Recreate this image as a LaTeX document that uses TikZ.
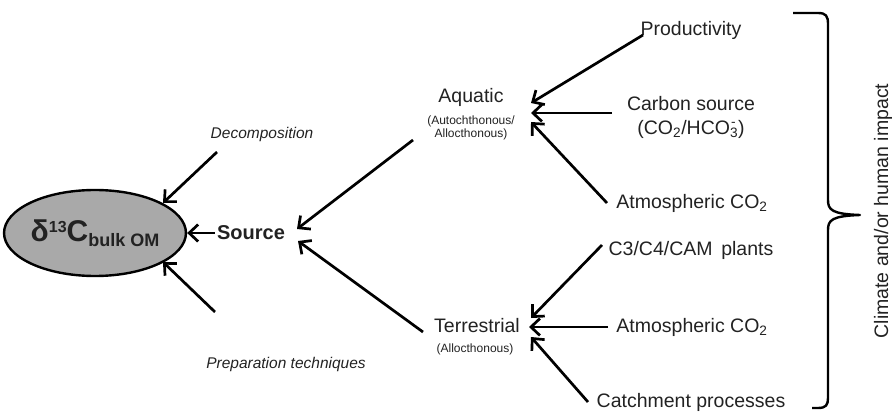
\documentclass[tikz,border=0pt]{standalone}
\usepackage{fontspec}
\setmainfont{Liberation Sans}
\usetikzlibrary{arrows.meta,shapes.geometric}
\definecolor{txt}{HTML}{222222}
\definecolor{ellfill}{HTML}{A9A9A9}
\tikzset{
  lbl/.style={text=txt,font=\fontsize{19.5}{22}\selectfont,inner sep=0pt},
  sub/.style={text=txt,font=\fontsize{12.5}{15}\selectfont,inner sep=0pt,align=center},
  ital/.style={text=txt,font=\fontsize{15.5}{18}\selectfont\itshape,inner sep=0pt},
  arr/.style={line width=2.7pt,-{Straight Barb[length=9pt,width=17pt,line width=2.7pt]}},
}
\begin{document}
\begin{tikzpicture}[x=1pt,y=-1pt]
\useasboundingbox (0,0) rectangle (892,414);
% main ellipse
\node (bulk) [ellipse,draw=black,line width=2.4pt,fill=ellfill,minimum width=166pt,minimum height=86pt,inner sep=0pt,font=\bfseries,text=txt] at (95,233)
  {\fontsize{30}{32}\selectfont δ\raisebox{9pt}{\fontsize{16}{18}\selectfont 13}C\raisebox{-5pt}{\fontsize{18}{20}\selectfont bulk OM}};
\node (src) [lbl,font=\fontsize{20}{22}\selectfont\bfseries] at (251,233) {Source};
\node (dec) [ital] at (262,134) {Decomposition};
\node (prep) [ital] at (286,364) {Preparation techniques};
% aquatic / terrestrial
\node (aq) [lbl] at (471,97) {Aquatic};
\node (aqs) [sub,font=\fontsize{12}{13.5}\selectfont] at (471,128) {(Autochthonous/\\Allocthonous)};
\node (ter) [lbl] at (477,326) {Terrestrial};
\node (ters) [sub,font=\fontsize{12}{13.5}\selectfont] at (475,349) {(Allocthonous)};
% right-hand factors
\node (prod) [lbl] at (691,30) {Productivity};
\node (csrc) [lbl,align=center] at (691,117) {Carbon source\\[2pt](CO\textsubscript{2}/HCO\rlap{\textsuperscript{\kern1pt-}}\textsubscript{3})};
\node (atm1) [lbl] at (692,203) {Atmospheric CO\textsubscript{2}};
\node (c34) [lbl] at (691,250) {C3/C4/CAM\, plants};
\node (atm2) [lbl] at (692,327) {Atmospheric CO\textsubscript{2}};
\node (catch) [lbl] at (691,402) {Catchment processes};
% connector end coordinates
\coordinate (prodS) at (643,35);
\coordinate (csrcS) at (612,113);
\coordinate (atm1S) at (607,203);
\coordinate (aqT1) at (531,103);
\coordinate (aqT2) at (531,113);
\coordinate (aqT3) at (531,122);
\coordinate (c34S) at (602,245);
\coordinate (atm2S) at (608,327);
\coordinate (catchS) at (588,402);
\coordinate (terT1) at (531,318);
\coordinate (terT2) at (529,327);
\coordinate (terT3) at (531,337);
\coordinate (aqS) at (413,140);
\coordinate (terS) at (423,332);
\coordinate (srcT1) at (297,229);
\coordinate (srcT2) at (298,241);
\coordinate (decS) at (217,152);
\coordinate (bulkT1) at (163,203);
\coordinate (prepS) at (215,312);
\coordinate (bulkT3) at (163,262);
% arrows
\draw[arr] (prodS) -- (aqT1);
\draw[arr] (csrcS) -- (aqT2);
\draw[arr] (atm1S) -- (aqT3);
\draw[arr] (c34S) -- (terT1);
\draw[arr] (atm2S) -- (terT2);
\draw[arr] (catchS) -- (terT3);
\draw[arr] (aqS) -- (srcT1);
\draw[arr] (terS) -- (srcT2);
\draw[arr] (src.west) ++(-2,0) -- (bulk.east);
\draw[arr] (decS) -- (bulkT1);
\draw[arr] (prepS) -- (bulkT3);
% brace
\draw[line width=2.4pt,line join=round] (793,13) -- (818,13) .. controls (826,13) and (828,16) .. (828,24)
  -- (828,200) .. controls (828,210) and (832,214) .. (860,215)
  .. controls (832,216) and (828,220) .. (828,230)
  -- (828,398) .. controls (828,405) and (826,408) .. (818,408) -- (812,408);
\node (clim) [lbl,rotate=90] at (883,211) {Climate and/or human impact};
\end{tikzpicture}
\end{document}
